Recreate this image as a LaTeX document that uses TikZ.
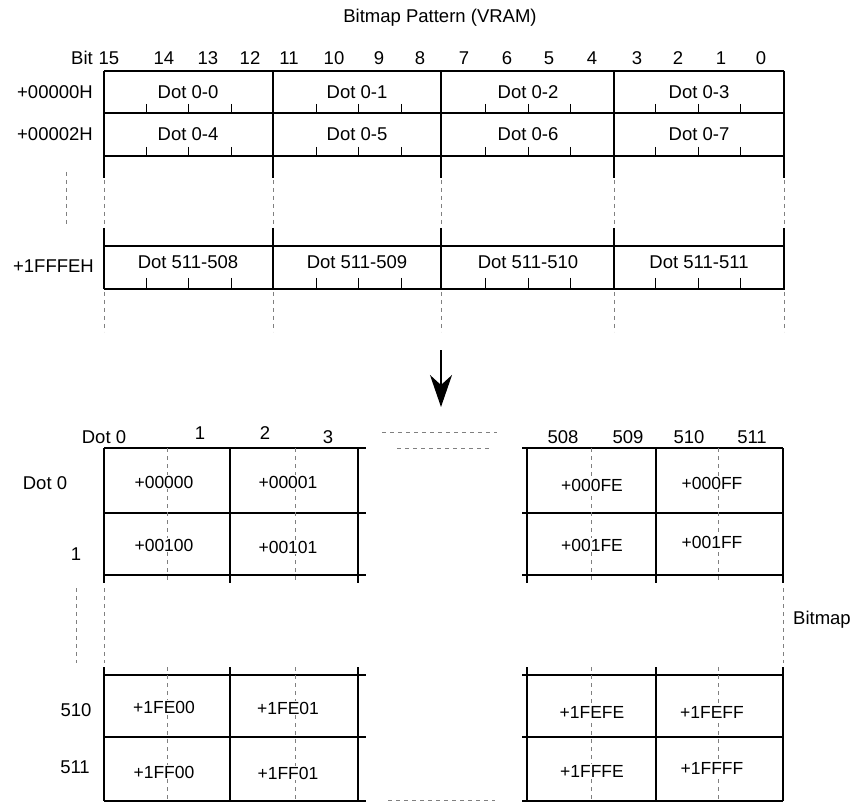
\documentclass[tikz,border=0pt]{standalone}
\usepackage{fontspec}
\setmainfont{Liberation Sans}
\usetikzlibrary{arrows.meta}

\begin{document}
\begin{tikzpicture}[
    x=1pt, y=-1pt,
    grid/.style={line width=1.1pt, black},
    heavy/.style={line width=2pt, black},
    guide/.style={gray, line width=0.9pt, dash pattern=on 4pt off 4pt},
    lbl/.style={inner sep=0pt, font=\fontsize{18.5}{22}\selectfont},
    addr/.style={inner sep=1pt, fill=white, font=\fontsize{17.5}{21}\selectfont}
]
    \useasboundingbox (0,0) rectangle (854,802);

    % --- Top: bitmap pattern in VRAM ---
    \node[lbl] (title) at (440,18) {Bitmap Pattern (VRAM)};
    \node[lbl, anchor=east] (bitword) at (93,58) {Bit};
    \foreach \b/\x in {15/109,14/164,13/208,12/250,11/289,10/334,9/379,8/420,
                       7/464,6/507,5/549,4/592,3/637,2/678,1/721,0/761}
        \node[lbl] (bit\b) at (\x,58) {\b};

    % word rows
    \foreach \y in {71,113,156,246} \draw[grid] (104,\y) -- (784,\y);
    \draw[heavy] (104,289) -- (785,289);
    \foreach \x in {104,273,441,614,784} {
        \draw[grid] (\x,71) -- (\x,178);
        \draw[guide] (\x,180) -- (\x,226);
        \draw[grid] (\x,228) -- (\x,289);
        \draw[guide] (\x,292) -- (\x,332);
    }
    \draw[guide] (66,172) -- (66,226);
    % bit ticks
    \foreach \c in {104,273.75,443.5,613.25}
        \foreach \k in {1,2,3} {
            \draw[grid] (\c+\k*42.44,104) -- (\c+\k*42.44,113);
            \draw[grid] (\c+\k*42.44,147) -- (\c+\k*42.44,156);
            \draw[grid] (\c+\k*42.44,278) -- (\c+\k*42.44,289);
        }

    \node[lbl, anchor=east] (w0) at (93,92) {+00000H};
    \node[lbl, anchor=east] (w1) at (93,134) {+00002H};
    \node[lbl, anchor=east] (wn) at (94,266) {+1FFFEH};

    \node[lbl] (d00) at (188,92) {Dot 0-0};
    \node[lbl] (d01) at (357,92) {Dot 0-1};
    \node[lbl] (d02) at (528,92) {Dot 0-2};
    \node[lbl] (d03) at (699,92) {Dot 0-3};
    \node[lbl] (d04) at (188,134) {Dot 0-4};
    \node[lbl] (d05) at (357,134) {Dot 0-5};
    \node[lbl] (d06) at (528,134) {Dot 0-6};
    \node[lbl] (d07) at (699,134) {Dot 0-7};
    \node[lbl] (d508) at (188,262) {Dot 511-508};
    \node[lbl] (d509) at (357,262) {Dot 511-509};
    \node[lbl] (d510) at (528,262) {Dot 511-510};
    \node[lbl] (d511) at (699,262) {Dot 511-511};

    % --- Arrow down ---
    \coordinate (arrowtop) at (441,350);
    \coordinate (arrowtip) at (441,407);
    \draw[line width=1.2pt, -{Stealth[length=32pt,width=22pt,inset=10pt]}] (arrowtop) -- (arrowtip);

    % --- Bottom: bitmap in dots ---
    \foreach \y in {448,513,575,675,737,801} {
        \draw[grid] (104,\y) -- (366,\y);
        \draw[grid] (522,\y) -- (783,\y);
    }
    \foreach \x in {104,230,358,527,656,783} {
        \draw[grid] (\x,448) -- (\x,583);
        \draw[grid] (\x,667) -- (\x,801);
    }
    \foreach \x in {167,295,591,718} {
        \draw[guide] (\x,448) -- (\x,583);
        \draw[guide] (\x,667) -- (\x,801);
    }
    \foreach \x in {76,104,783} \draw[guide] (\x,588) -- (\x,663);
    \draw[guide] (382,432) -- (497,432);
    \draw[guide] (397,448) -- (492,448);
    \draw[guide] (388,800) -- (495,800);

    % column and row labels
    \node[lbl] (c0) at (104,437) {Dot 0};
    \node[lbl] (c1) at (200,433) {1};
    \node[lbl] (c2) at (265,433) {2};
    \node[lbl] (c3) at (328,437) {3};
    \node[lbl] (c508) at (563,437) {508};
    \node[lbl] (c509) at (628,437) {509};
    \node[lbl] (c510) at (689,437) {510};
    \node[lbl] (c511) at (752,437) {511};
    \node[lbl] (r0) at (45,483) {Dot 0};
    \node[lbl] (r1) at (76,554) {1};
    \node[lbl] (r510) at (76,710) {510};
    \node[lbl] (r511) at (75,767) {511};
    \node[lbl, anchor=west] (bmp) at (793,620) {Bitmap};

    % addresses
    \node[addr] (a00) at (164,482) {+00000};
    \node[addr] (a01) at (288,482) {+00001};
    \node[addr] (a10) at (164,545) {+00100};
    \node[addr] (a11) at (288,547) {+00101};
    \node[addr] (a0e) at (592,485) {+000FE};
    \node[addr] (a0f) at (712,483) {+000FF};
    \node[addr] (a1e) at (592,545) {+001FE};
    \node[addr] (a1f) at (712,542) {+001FF};
    \node[addr] (an0) at (164,707) {+1FE00};
    \node[addr] (an1) at (288,708) {+1FE01};
    \node[addr] (ane) at (592,712) {+1FEFE};
    \node[addr] (anf) at (712,712) {+1FEFF};
    \node[addr] (am0) at (164,772) {+1FF00};
    \node[addr] (am1) at (288,773) {+1FF01};
    \node[addr] (ame) at (592,771) {+1FFFE};
    \node[addr] (amf) at (712,768) {+1FFFF};
\end{tikzpicture}
\end{document}
